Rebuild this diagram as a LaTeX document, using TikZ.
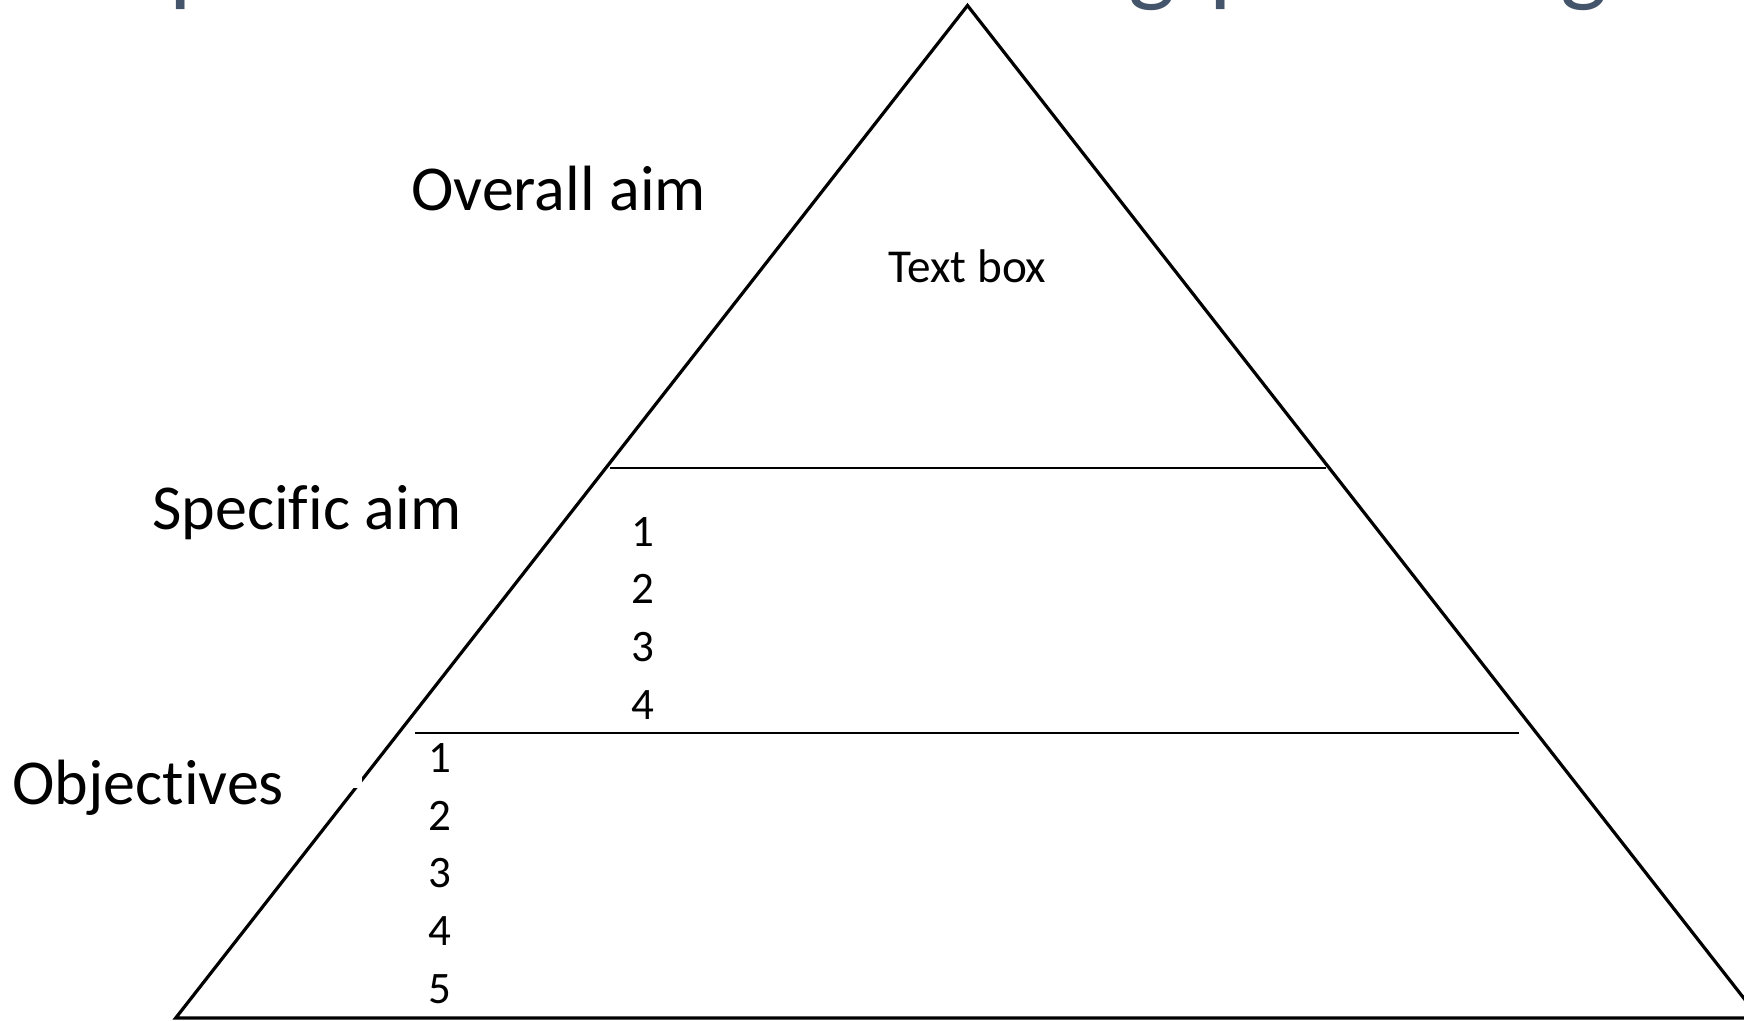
\documentclass[tikz,border=0pt]{standalone}
\usepackage{fontspec}
\setmainfont{Carlito}[Ligatures=NoCommon]
\definecolor{titlegray}{HTML}{44546A}

\tikzset{
  level/.style={anchor=base west,inner sep=0pt,font=\fontsize{32}{38}\selectfont},
  numlist/.style={anchor=south west,inner sep=0pt,align=left,font=\fontsize{22.5}{28.85}\selectfont},
  titlebit/.style={titlegray,anchor=base west,inner sep=0pt,font=\fontsize{50}{60}\selectfont}
}

\begin{document}
\begin{tikzpicture}[x=0.5pt,y=-0.5pt]
        \useasboundingbox (0,0) rectangle (1744,1021);
        % what is left of the title above the picture
        \node[titlebit] (tp1) at (169,-6) {p};
        \node[titlebit] (tg1) at (1128,-6) {g};
        \node[titlebit] (tp2) at (1209,-6) {p};
        \node[titlebit] (tg2) at (1560,-6) {g};
        % pyramid
        \draw[line width=1.6pt](967.5,5.5)coordinate(apex)--(175.7,1018)coordinate(left)--(1759.3,1018)coordinate(right)--cycle;
        \draw[line width=1pt](609.5,468.3)coordinate(u1)--(1325.8,468.3)coordinate(u2);
        \draw[line width=1pt](414.9,733)coordinate(l1)--(1519.3,733)coordinate(l2);
        \fill[white](300,776)rectangle(361.5,788);
        % labels
        \node[level] (overall) at (411,210.5) {Overall aim};
        \node[level] (specific) at (152,529) {Specific aim};
        \node[level] (objectives) at (12,804) {Objectives};
        \node[anchor=base,inner sep=0pt,font=\fontsize{23.6}{28}\selectfont] (textbox) at (967.5,283) {Text box};
        \node[numlist] (aims) at (631,719.5) {1\\2\\3\\4};
        \node[numlist] (objs) at (428,1004) {1\\2\\3\\4\\5};
    \end{tikzpicture}
\end{document}
